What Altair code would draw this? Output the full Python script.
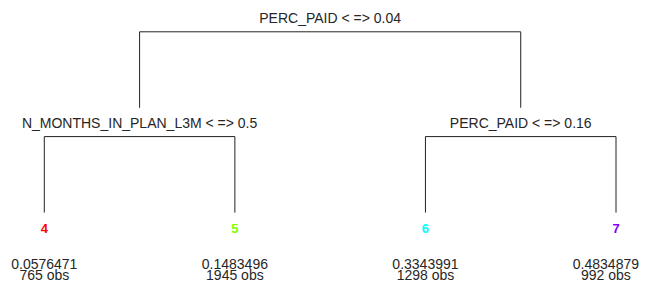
import altair as alt
import pandas as pd

# ---- tree content (heap numbering: node n has children 2n, 2n+1) ----
split_nodes = [1, 2, 3]
split_vars = ["PERC_PAID", "N_MONTHS_IN_PLAN_L3M", "PERC_PAID"]
split_thresholds = ["0.04", "0.5", "0.16"]

leaf_nodes = [4, 5, 6, 7]
leaf_means = ["0.0576471", "0.1483496", "0.3343991", "0.4834879"]
leaf_obs = [765, 1945, 1298, 992]
leaf_colors = ["#FF0000", "#80FF00", "#00FFFF", "#8000FF"]

# ---- layout derived from tree structure ----
pos = {}
for i, n in enumerate(leaf_nodes):
    pos[n] = (float(i), 2)


def place(n):
    if n in pos:
        return pos[n]
    xl, dl = place(2 * n)
    xr, dr = place(2 * n + 1)
    pos[n] = ((xl + xr) / 2.0, dl - 1)
    return pos[n]


for n in split_nodes:
    place(n)

LEG = 0.725
segs = []
for n in split_nodes:
    x, d = pos[n]
    xl = pos[2 * n][0]
    xr = pos[2 * n + 1][0]
    segs.append(dict(x=xl, x2=xr, y=d, y2=d))
    segs.append(dict(x=xl, x2=xl, y=d, y2=d + LEG))
    segs.append(dict(x=xr, x2=xr, y=d, y2=d + LEG))
seg_df = pd.DataFrame(segs)

split_df = pd.DataFrame(
    {
        "x": [pos[n][0] for n in split_nodes],
        "y": [pos[n][1] for n in split_nodes],
        "label": [f"{v} < => {t}" for v, t in zip(split_vars, split_thresholds)],
    }
)

X_DOMAIN = [-0.1905, 3.1259]
# keep the leaf summary text inside the drawing area (right edge)
TEXT_X_MAX = 2.947

leaf_df = pd.DataFrame(
    {
        "x": [pos[n][0] for n in leaf_nodes],
        "tx": [min(pos[n][0], TEXT_X_MAX) for n in leaf_nodes],
        "y": [pos[n][1] - 1 + LEG for n in leaf_nodes],
        "node": [str(n) for n in leaf_nodes],
        "mean": leaf_means,
        "obs": [f"{o} obs" for o in leaf_obs],
    }
)

FONT = "Liberation Sans"
TXT = "#262626"

xs = alt.Scale(domain=X_DOMAIN, zero=False, nice=False)
ys = alt.Scale(domain=[-0.2271, 2.378], zero=False, nice=False, reverse=True)
X = lambda f="x": alt.X(f"{f}:Q", scale=xs, axis=None)
Y = lambda f="y": alt.Y(f"{f}:Q", scale=ys, axis=None)

rules = alt.Chart(seg_df).mark_rule(color="#222222", strokeWidth=1).encode(
    x=X(), x2="x2:Q", y=Y(), y2="y2:Q"
)

split_text = alt.Chart(split_df).mark_text(
    font=FONT, fontSize=14, color=TXT, baseline="alphabetic", dy=-9
).encode(x=X(), y=Y(), text="label:N")

leaf_num = alt.Chart(leaf_df).mark_text(
    font=FONT, fontSize=13, fontWeight="bold", baseline="alphabetic", dy=20
).encode(
    x=X(),
    y=Y(),
    text="node:N",
    color=alt.Color(
        "node:N",
        scale=alt.Scale(domain=[str(n) for n in leaf_nodes], range=leaf_colors),
        legend=None,
    ),
)

leaf_mean = alt.Chart(leaf_df).mark_text(
    font=FONT, fontSize=14, color=TXT, baseline="alphabetic", dy=56
).encode(x=X("tx"), y=Y(), text="mean:N")

leaf_obs_t = alt.Chart(leaf_df).mark_text(
    font=FONT, fontSize=14, color=TXT, baseline="alphabetic", dy=67.5
).encode(x=X("tx"), y=Y(), text="obs:N")

chart = (
    alt.layer(rules, split_text, leaf_num, leaf_mean, leaf_obs_t)
    .properties(width=632, height=273, padding=0, autosize="none", background="white")
    .configure_view(stroke=None)
)

chart.save("out.html", embed_options={"renderer": "svg", "actions": False})
